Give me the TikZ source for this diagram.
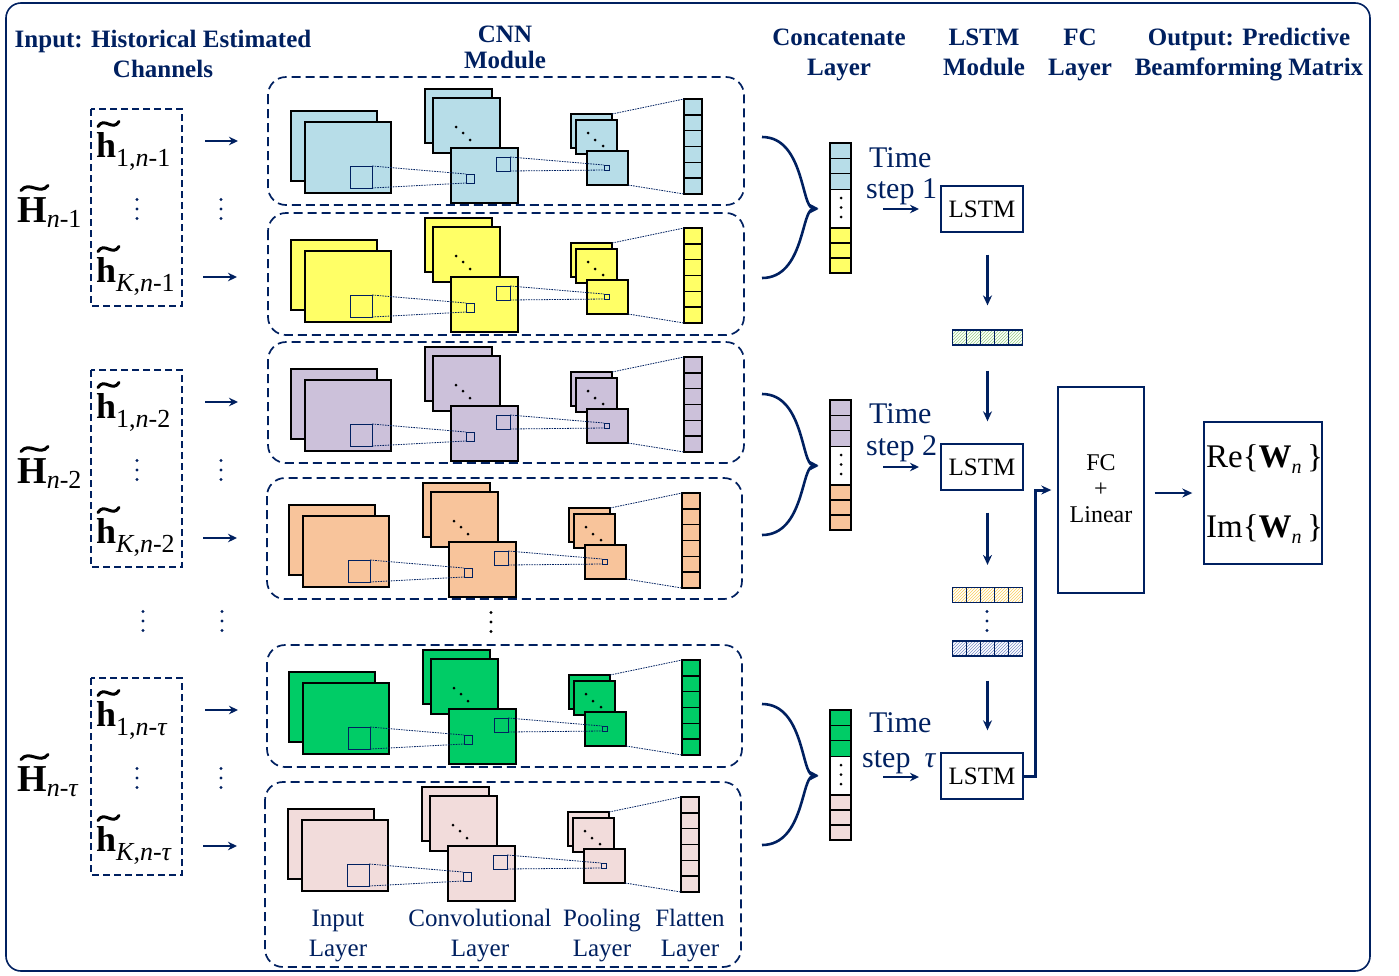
\RequirePackage{fix-cm}
\documentclass[tikz,border=0pt]{standalone}
\usepackage{amsmath}
\usepackage{fontspec}
\setmainfont{Liberation Serif}
\usetikzlibrary{arrows.meta,patterns}
\definecolor{navy}{RGB}{0,32,96}
\definecolor{cblue}{RGB}{183,221,232}
\definecolor{cyellow}{RGB}{255,255,102}
\definecolor{cpurple}{RGB}{204,193,218}
\definecolor{corange}{RGB}{248,196,155}
\definecolor{cgreen}{RGB}{0,204,102}
\definecolor{cpink}{RGB}{242,220,219}
\definecolor{hgreen}{RGB}{150,205,130}
\definecolor{hyellow}{RGB}{250,205,90}
\definecolor{hblue}{RGB}{120,140,200}
\tikzset{
  fmap/.style={draw=black, line width=1.6pt},
  kern/.style={draw=navy, line width=1pt},
  proj/.style={draw=navy, line width=0.8pt, dash pattern=on 1.6pt off 1pt},
  cnnbox/.style={draw=navy, line width=1.7pt, dash pattern=on 9pt off 5pt, rounded corners=18pt},
  inbox/.style={draw=navy, line width=1.5pt, dash pattern=on 7pt off 4pt},
  arr/.style={draw=navy, line width=2.8pt, -{Stealth[length=10pt,width=9pt]}},
  sarr/.style={draw=navy, line width=2.6pt, -{Stealth[length=9pt,width=8.5pt]}},
  cell/.style={draw=black, line width=1.3pt},
  lstmbox/.style={draw=navy, line width=1.4pt, minimum width=82pt, minimum height=46pt, inner sep=0pt, text=black, font=\fontsize{25}{30}\selectfont},
  head/.style={text=navy, font=\fontsize{25}{30}\selectfont\bfseries, anchor=base, inner sep=0pt},
  lbl/.style={text=navy, font=\fontsize{25}{30}\selectfont, anchor=base, inner sep=0pt},
  tstep/.style={text=navy, font=\fontsize{30}{36}\selectfont, anchor=base west, inner sep=0pt},
  hsym/.style={text=black, font=\fontsize{36}{42}\selectfont, anchor=base west, inner sep=0pt},
  Hsym/.style={text=black, font=\fontsize{38}{44}\selectfont, anchor=base west, inner sep=0pt},
  tld/.style={draw=black, line width=3pt, line cap=round},
}
\newcommand{\symb}[3]{\textbf{#1}\raisebox{-#3}{\fontsize{26}{26}\selectfont #2}}
\newcommand{\tildeat}[3]{\draw[tld] (#1,{#2+2.5}) .. controls ({#1+0.3*#3},{#2-8}) and ({#1+0.7*#3},{#2+8}) .. ({#1+#3},{#2-2.5});}
\newcommand{\threedots}[3]{\fill[#3] (#1,{#2-9.5}) circle (1.6) (#1,#2) circle (1.6) (#1,{#2+9.5}) circle (1.6);}
\newcommand{\cnnrow}[3]{%
\begin{scope}[shift={(#1,#2)}]
 \draw[fmap,fill=#3] (-160,-37) rectangle (-74,33);
 \draw[fmap,fill=#3] (-146,-26) rectangle (-60,45);
 \draw[kern] (-101,18) rectangle (-79,40);
 \draw[fmap,fill=#3] (-26,-59) rectangle (41,-5);
 \draw[fmap,fill=#3] (-18,-50) rectangle (49,5);
 \fill (5,-21) circle (1.5) (12,-15) circle (1.5) (19,-8) circle (1.5);
 \draw[fmap,fill=#3] (0,0) rectangle (67,55);
 \draw[kern] (15,26) rectangle (23,35);
 \draw[kern] (45,9) rectangle (59,23);
 \draw[fmap,fill=#3] (120,-34) rectangle (161,0);
 \draw[fmap,fill=#3] (125,-28) rectangle (166,6);
 \fill (137,-15) circle (1.5) (144,-8) circle (1.5) (152,-2) circle (1.5);
 \draw[fmap,fill=#3] (136,3) rectangle (177,37);
 \draw[kern] (153,17) rectangle (158,22);
 \foreach \k in {0,...,5} {\draw[fmap,fill=#3] (233,{-49+15.83*\k}) rectangle (251,{-49+15.83*(\k+1)});}
 \draw[proj] (-79,18) -- (15,26) (-79,40) -- (15,35);
 \draw[proj] (59,9) -- (153,17) (59,23) -- (153,22);
 \draw[proj] (161,-34) -- (233,-49) (177,37) -- (233,46);
\end{scope}}
\newcommand{\inputgroup}[5]{% dy, Hsub, h1sub, hKsub, tag
\begin{scope}[shift={(0,#1)}]
 \draw[inbox] (91,109) rectangle (182,306);
 \node[Hsym] (H#5) at (17,222) {\symb{H}{#2}{5pt}};
 \tildeat{21}{188}{27}
 \node[hsym] (ha#5) at (96,157) {\symb{h}{#3}{9pt}};
 \tildeat{98}{124}{21}
 \node[hsym] (hk#5) at (96,282) {\symb{h}{#4}{9pt}};
 \tildeat{98}{249}{21}
 \threedots{137}{209}{navy}
 \threedots{221}{209}{navy}
 \coordinate (pa#5) at (205,141); \coordinate (qa#5) at (238,141);
 \coordinate (pk#5) at (203,277); \coordinate (qk#5) at (237,277);
 \draw[sarr] (pa#5) -- (qa#5);
 \draw[sarr] (pk#5) -- (qk#5);
\end{scope}}
\newcommand{\concat}[4]{% name, ytop, colA, colB
 \foreach \k in {0,1,2} {
  \draw[cell, fill=#3] (830,{#2+15.4*\k}) rectangle (851,{#2+15.4*(\k+1)});
  \draw[cell, fill=#4] (830,{#2+85+15*\k}) rectangle (851,{#2+85+15*(\k+1)});
 }
 \node[cell, minimum width=21pt, minimum height=130pt, inner sep=0pt, anchor=north] (#1) at (840.5,#2) {};
 \fill (841,{#2+55}) circle (1.5) (841,{#2+64.5}) circle (1.5) (841,{#2+74}) circle (1.5);
 \coordinate (#1a) at (762,{#2-6});
 \coordinate (#1b) at (762,{#2+135});
 \draw[sarr, shorten >=11pt] (#1a) .. controls +(42,0) and +(-28,-1) .. (#1.west);
 \draw[sarr, shorten >=11pt] (#1b) .. controls +(42,0) and +(-28,1) .. (#1.west);
}
\newcommand{\hatchbar}[3]{% name, ycenter, color
 \node[draw=navy, line width=1.2pt, minimum width=70pt, minimum height=15pt, inner sep=0pt, pattern=north east lines, pattern color=#3] (#1) at (987.5,#2) {};
 \foreach \k in {1,...,4} {\draw[navy, line width=1.2pt] ({952.5+14*\k},{#2-7.5}) -- ({952.5+14*\k},{#2+7.5});}
}
\begin{document}
\begin{tikzpicture}[x=1pt,y=-1pt]
\useasboundingbox (0,0) rectangle (1399,975);
\draw[navy, line width=1.6pt, rounded corners=15pt] (6,3) rectangle (1370,971);

% headers
\node[head] (t1) at (163,47) {Input: Historical Estimated};
\node[head] (t2) at (163,77) {Channels};
\node[head] (t3) at (505,42) {CNN};
\node[head] (t4) at (505,68) {Module};
\node[head] (t5) at (839,45) {Concatenate};
\node[head] (t6) at (839,75) {Layer};
\node[head] (t7) at (984,45) {LSTM};
\node[head] (t8) at (984,75) {Module};
\node[head] (t9) at (1080,45) {FC};
\node[head] (t10) at (1080,75) {Layer};
\node[head] (t11) at (1249,45) {Output: Predictive};
\node[head] (t12) at (1249,75) {Beamforming Matrix};

% inputs
\inputgroup{0}{\textit{n}-1}{1,\textit{n}-1}{\textit{K},\textit{n}-1}{A}
\inputgroup{261}{\textit{n}-2}{1,\textit{n}-2}{\textit{K},\textit{n}-2}{B}
\inputgroup{569}{\textit{n}-\textit{τ}}{1,\textit{n}-\textit{τ}}{\textit{K},\textit{n}-\textit{τ}}{C}
\threedots{143}{621}{navy}
\threedots{222}{621}{navy}

% CNN boxes
\draw[cnnbox] (268,77) rectangle (744,205);
\draw[cnnbox] (268,213) rectangle (744,335);
\draw[cnnbox] (268,342) rectangle (744,463);
\draw[cnnbox] (267,478) rectangle (742,599);
\draw[cnnbox] (267,645) rectangle (742,767);
\draw[cnnbox] (265,782) rectangle (741,967);
\cnnrow{451}{148}{cblue}
\cnnrow{451}{277}{cyellow}
\cnnrow{451}{406}{cpurple}
\cnnrow{449}{542}{corange}
\cnnrow{449}{709}{cgreen}
\cnnrow{448}{846}{cpink}
\threedots{491}{622}{black}

\node[lbl] (b1) at (338,926) {Input};
\node[lbl] (b2) at (338,956) {Layer};
\node[lbl] (b3) at (480,926) {Convolutional};
\node[lbl] (b4) at (480,956) {Layer};
\node[lbl] (b5) at (602,926) {Pooling};
\node[lbl] (b6) at (602,956) {Layer};
\node[lbl] (b7) at (690,926) {Flatten};
\node[lbl] (b8) at (690,956) {Layer};

% concatenate
\concat{ca}{143}{cblue}{cyellow}
\concat{cb}{400}{cpurple}{corange}
\concat{cc}{710}{cgreen}{cpink}

% time steps
\node[tstep] (ts1) at (869,167) {Time};
\node[tstep] (ts2) at (866,198) {step 1};
\node[tstep] (ts3) at (869,423) {Time};
\node[tstep] (ts4) at (866,455) {step 2};
\node[tstep] (ts5) at (869,732) {Time};
\node[tstep] (ts6) at (862,767) {step\hspace{14pt}\textit{τ}};
\coordinate (sa1) at (883,209); \coordinate (sb1) at (919,209);
\coordinate (sa2) at (883,467); \coordinate (sb2) at (919,467);
\coordinate (sa3) at (883,777); \coordinate (sb3) at (919,777);
\draw[sarr] (sa1) -- (sb1);
\draw[sarr] (sa2) -- (sb2);
\draw[sarr] (sa3) -- (sb3);

% LSTM
\node[lstmbox] (l1) at (982,209) {LSTM};
\node[lstmbox] (l2) at (982,467) {LSTM};
\node[lstmbox] (l3) at (982,776) {LSTM};
\hatchbar{h1}{337.5}{hgreen}
\hatchbar{h2}{595}{hyellow}
\hatchbar{h3}{648.5}{hblue}
\threedots{987}{621}{navy}
\draw[arr, shorten <=22pt, shorten >=24pt] (l1.south -| h1.center) -- (h1.north);
\draw[arr, shorten <=25pt, shorten >=22pt] (h1.south) -- (l2.north -| h1.center);
\draw[arr, shorten <=22pt, shorten >=22pt] (l2.south -| h2.center) -- (h2.north);
\draw[arr, shorten <=24pt, shorten >=22pt] (h3.south) -- (l3.north -| h3.center);

% FC
\node[draw=navy, line width=1.4pt, minimum width=86pt, minimum height=206pt, inner sep=0pt] (fc) at (1101,490) {};
\node[text=black, font=\fontsize{24}{26}\selectfont, align=center, inner sep=0pt] (fct) at (1101,489) {FC\\+\\Linear};
\draw[arr, line width=3pt, shorten >=6pt] (l3.east) -- ++(12,0) |- (fc.west);

% output
\node[draw=navy, line width=1.4pt, minimum width=118pt, minimum height=142pt, inner sep=0pt] (out) at (1263,493) {};
\node[text=black, font=\fontsize{33}{40}\selectfont, anchor=base west, inner sep=0pt] (re) at (1206,467) {Re\{\textbf{W}\raisebox{-6pt}{\fontsize{20}{20}\selectfont\textit{n}}\,\}};
\node[text=black, font=\fontsize{33}{40}\selectfont, anchor=base west, inner sep=0pt] (im) at (1206,537) {Im\{\textbf{W}\raisebox{-6pt}{\fontsize{20}{20}\selectfont\textit{n}}\,\}};
\draw[arr, shorten <=10pt, shorten >=11pt] (fc.east |- out.west) -- (out.west);
\end{tikzpicture}
\end{document}
